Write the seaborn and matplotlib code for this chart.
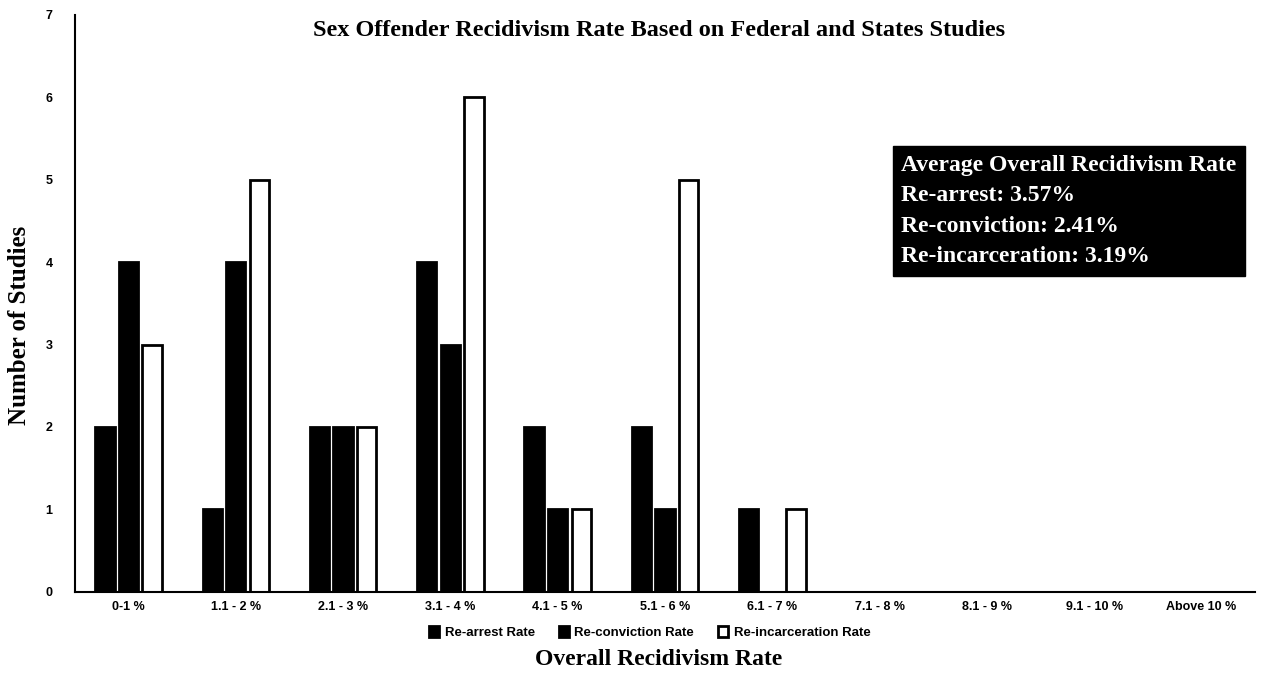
import pandas as pd
import matplotlib
matplotlib.use("Agg")
import matplotlib.pyplot as plt
import seaborn as sns

# Data
categories = ["0-1 %", "1.1 - 2 %", "2.1 - 3 %", "3.1 - 4 %", "4.1 - 5 %", "5.1 - 6 %",
              "6.1 - 7 %", "7.1 - 8 %", "8.1 - 9 %", "9.1 - 10 %", "Above 10 %"]
rearrest = [2, 1, 2, 4, 2, 2, 1, 0, 0, 0, 0]
reconviction = [4, 4, 2, 3, 1, 1, 0, 0, 0, 0, 0]
reincarceration = [3, 5, 2, 6, 1, 5, 1, 0, 0, 0, 0]
series_names = ["Re-arrest Rate", "Re-conviction Rate", "Re-incarceration Rate"]
box_lines = ["Average Overall Recidivism Rate", "Re-arrest: 3.57%",
             "Re-conviction: 2.41%", "Re-incarceration: 3.19%"]

df = pd.DataFrame({
    "Rate": categories * 3,
    "Series": [series_names[0]] * len(categories) + [series_names[1]] * len(categories)
              + [series_names[2]] * len(categories),
    "Studies": rearrest + reconviction + reincarceration,
})

sns.set_style("white", {"text.color": "black", "axes.labelcolor": "black",
                        "xtick.color": "black", "ytick.color": "black"})
serif = ["Liberation Serif", "DejaVu Serif"]
sans = ["Liberation Sans", "DejaVu Sans"]

fig = plt.figure(figsize=(12.69, 6.74), dpi=100)
ax = fig.add_axes([0.059, 0.122, 0.93, 0.856])

sns.barplot(data=df, x="Rate", y="Studies", hue="Series", order=categories,
            hue_order=series_names, palette=["black", "black", "white"],
            edgecolor="black", linewidth=2, width=0.66, gap=0.18, ax=ax)

ax.set_ylim(0, 7)
ax.set_xlim(-0.5, len(categories) - 0.5)
ax.set_yticks(range(0, 8))
for s in ["top", "right"]:
    ax.spines[s].set_visible(False)
ax.spines["left"].set_color("black")
ax.spines["left"].set_linewidth(1.5)
ax.spines["bottom"].set_color("black")
ax.spines["bottom"].set_linewidth(1.5)
ax.tick_params(axis="both", length=0)
for lab in ax.get_xticklabels() + ax.get_yticklabels():
    lab.set_fontfamily(sans)
    lab.set_fontweight("bold")
    lab.set_fontsize(9)
    lab.set_color("black")
ax.tick_params(axis="y", pad=16)
ax.tick_params(axis="x", pad=7)

ax.set_xlabel("Overall Recidivism Rate", fontfamily=serif, fontweight="bold", fontsize=17,
              color="black")
ax.xaxis.set_label_coords(0.495, -0.118)
ax.xaxis.label.set_va("center")
ax.set_ylabel("Number of Studies", fontfamily=serif, fontweight="bold", fontsize=18,
              color="black")
ax.yaxis.set_label_coords(-0.047, 0.461)
ax.yaxis.label.set_va("center")
ax.text(0.495, 0.972, "Sex Offender Recidivism Rate Based on Federal and States Studies",
        transform=ax.transAxes, ha="center", va="center", fontfamily=serif,
        fontweight="bold", fontsize=17.5, color="black")

ax.text(0.700, 0.66, "\n".join(box_lines), transform=ax.transAxes, ha="left", va="center",
        color="white", fontfamily=serif, fontweight="bold", fontsize=17, linespacing=1.6,
        bbox=dict(facecolor="black", edgecolor="black", boxstyle="square,pad=0.35"))

handles, labels = ax.get_legend_handles_labels()
leg = ax.legend(handles, labels, loc="center", bbox_to_anchor=(0.487, -0.071), ncol=3,
                frameon=False, prop={"family": sans, "weight": "bold", "size": 9.5},
                handlelength=0.8, handleheight=0.8, columnspacing=1.8, handletextpad=0.4,
                borderpad=0)
for t in leg.get_texts():
    t.set_color("black")

fig.savefig("out.png", dpi=100, facecolor="white")
